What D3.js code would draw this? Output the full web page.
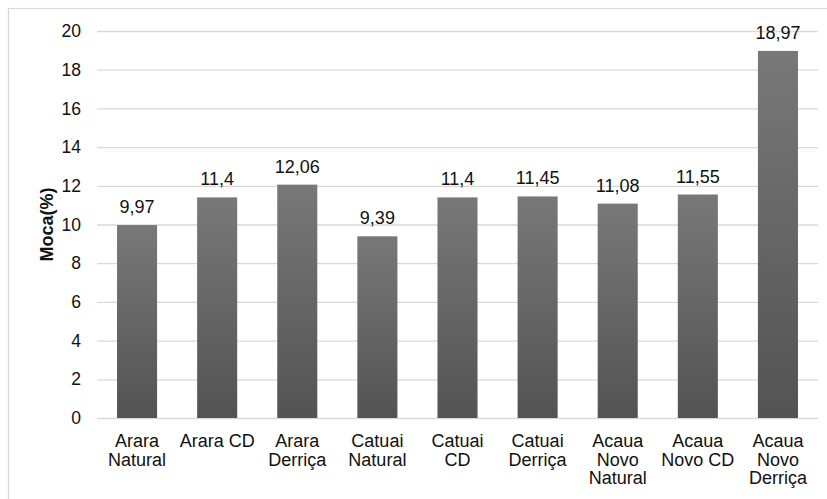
<!DOCTYPE html>
<html><head><meta charset="utf-8">
<script src="https://cdn.jsdelivr.net/npm/d3@7"></script>
<style>body{margin:0;background:#fff}svg{display:block;font-family:"Liberation Sans",Arial,sans-serif}</style>
</head><body><svg id="c" width="827" height="499"></svg>
<script>
const categories = [["Arara","Natural"],["Arara CD"],["Arara","Derriça"],["Catuai","Natural"],["Catuai","CD"],["Catuai","Derriça"],["Acaua","Novo","Natural"],["Acaua","Novo CD"],["Acaua","Novo","Derriça"]];
const values = [9.97, 11.4, 12.06, 9.39, 11.4, 11.45, 11.08, 11.55, 18.97];
const valueLabels = ["9,97","11,4","12,06","9,39","11,4","11,45","11,08","11,55","18,97"];
const yTicks = [0,2,4,6,8,10,12,14,16,18,20];
const yTitle = "Moca(%)";

const svg = d3.select("#c");
const mLeft = 97, mRight = 818, mTop = 31, mBottom = 418;
const ids = categories.map((c,i)=>"c"+i);
const x = d3.scaleBand().domain(ids).range([mLeft,mRight]).paddingInner(0.5).paddingOuter(0.25);
const y = d3.scaleLinear().domain([0,20]).range([mBottom,mTop]);

const defs = svg.append("defs");
const g = defs.append("linearGradient").attr("id","grad").attr("x1",0).attr("y1",0).attr("x2",0).attr("y2",1);
g.append("stop").attr("offset","0%").attr("stop-color","#787878");
g.append("stop").attr("offset","100%").attr("stop-color","#535353");

svg.append("rect").attr("x",8.5).attr("y",8.5).attr("width",900).attr("height",600)
  .attr("fill","none").attr("stroke","#d9d9d9").attr("stroke-width",1.2);

const yAxis = svg.append("g").attr("transform",`translate(${mLeft},0)`)
  .call(d3.axisLeft(y).tickValues(yTicks).tickSize(-(mRight-mLeft)).tickPadding(16));
yAxis.select(".domain").remove();
yAxis.selectAll(".tick line").attr("stroke","#d9d9d9").attr("stroke-width",1.3);
yAxis.selectAll(".tick text").attr("font-size","17.5px").attr("fill","#111").attr("font-family","Liberation Sans, Arial, sans-serif");

svg.append("g").selectAll("rect").data(values).join("rect")
  .attr("x",(d,i)=>x(ids[i])).attr("width",x.bandwidth())
  .attr("y",d=>y(d)).attr("height",d=>y(0)-y(d))
  .attr("fill","url(#grad)");

svg.append("g").selectAll("text").data(values).join("text")
  .attr("x",(d,i)=>x(ids[i])+x.bandwidth()/2).attr("y",d=>y(d)-12)
  .attr("text-anchor","middle").attr("font-size","18px").attr("fill","#111")
  .text((d,i)=>valueLabels[i]);

const cat = svg.append("g").selectAll("text").data(categories).join("text")
  .attr("x",(d,i)=>x(ids[i])+x.bandwidth()/2).attr("y",447)
  .attr("text-anchor","middle").attr("font-size","18px").attr("fill","#111");
cat.selectAll("tspan").data(d=>d).join("tspan")
  .attr("x",function(){return this.parentNode.getAttribute("x");})
  .attr("dy",(d,i)=>i===0?0:18.5).text(d=>d);

svg.append("text").attr("transform",`translate(53,${(mTop+mBottom)/2}) rotate(-90)`)
  .attr("text-anchor","middle").attr("font-size","18px").attr("font-weight","bold").attr("fill","#111").text(yTitle);
</script></body></html>
